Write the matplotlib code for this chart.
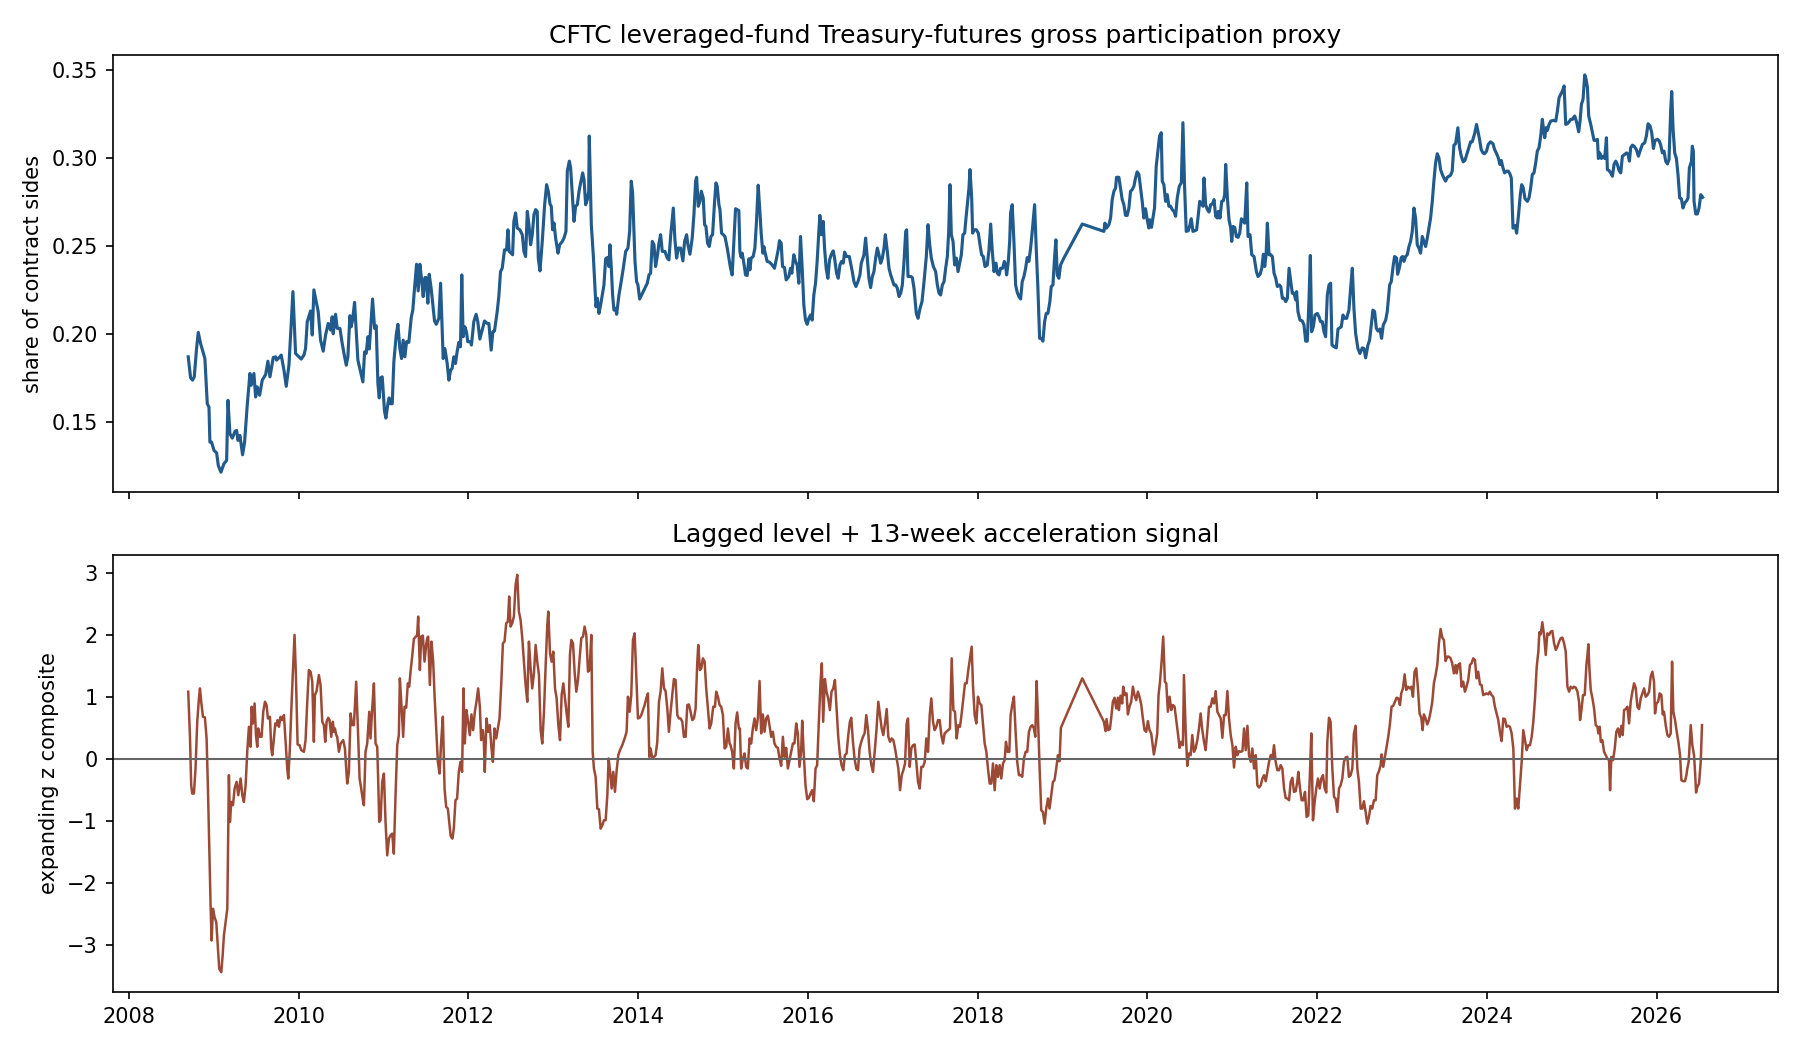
import pandas as pd
import matplotlib
matplotlib.use("Agg")
import matplotlib.pyplot as plt

# leveraged-fund gross participation share (decimal year, value)
lev_year = [
    2008.696, 2008.724, 2008.747, 2008.767, 2008.794, 2008.814, 2008.841, 2008.892, 2008.920, 2008.940,
    2008.951, 2008.971, 2008.999, 2009.030, 2009.050, 2009.081, 2009.116, 2009.148, 2009.164, 2009.187,
    2009.215, 2009.246, 2009.266, 2009.282, 2009.305, 2009.336, 2009.360, 2009.391, 2009.423, 2009.439,
    2009.470, 2009.490, 2009.509, 2009.537, 2009.568, 2009.608, 2009.635, 2009.659, 2009.698, 2009.726,
    2009.737, 2009.765, 2009.792, 2009.824, 2009.851, 2009.883, 2009.930, 2009.961, 2010.001, 2010.028,
    2010.060, 2010.079, 2010.099, 2010.138, 2010.158, 2010.177, 2010.228, 2010.256, 2010.287, 2010.315,
    2010.346, 2010.374, 2010.393, 2010.405, 2010.433, 2010.452, 2010.484, 2010.511, 2010.539, 2010.559,
    2010.578, 2010.602, 2010.617, 2010.633, 2010.657, 2010.696, 2010.728, 2010.755, 2010.775, 2010.794,
    2010.814, 2010.830, 2010.869, 2010.893, 2010.912, 2010.932, 2010.948, 2010.963, 2010.983, 2011.010,
    2011.026, 2011.050, 2011.065, 2011.081, 2011.101, 2011.120, 2011.148, 2011.168, 2011.191, 2011.211,
    2011.230, 2011.250, 2011.270, 2011.297, 2011.325, 2011.344, 2011.364, 2011.388, 2011.407, 2011.427,
    2011.450, 2011.466, 2011.486, 2011.501, 2011.521, 2011.537, 2011.560, 2011.600, 2011.620, 2011.651,
    2011.671, 2011.702, 2011.722, 2011.749, 2011.769, 2011.789,
    2011.807, 2011.827, 2011.847, 2011.866, 2011.886, 2011.906, 2011.921, 2011.937, 2011.957, 2011.976,
    2011.992, 2012.024, 2012.035, 2012.063, 2012.090, 2012.110, 2012.134, 2012.161, 2012.189, 2012.220,
    2012.240, 2012.267, 2012.287, 2012.306, 2012.338, 2012.357, 2012.377, 2012.397, 2012.424, 2012.448,
    2012.464, 2012.479, 2012.503, 2012.519, 2012.534, 2012.554, 2012.574, 2012.605, 2012.633, 2012.652,
    2012.672, 2012.692, 2012.711, 2012.731, 2012.750, 2012.770, 2012.790, 2012.809, 2012.821, 2012.841,
    2012.868, 2012.896, 2012.919, 2012.939, 2012.959, 2012.974, 2012.990, 2013.006, 2013.025, 2013.053,
    2013.073, 2013.104, 2013.124, 2013.147, 2013.163, 2013.187, 2013.202, 2013.222, 2013.242, 2013.261,
    2013.281, 2013.301, 2013.320, 2013.344, 2013.360, 2013.379, 2013.399, 2013.415, 2013.422, 2013.430,
    2013.446, 2013.469, 2013.485, 2013.501, 2013.517, 2013.536, 2013.556, 2013.576, 2013.595, 2013.615,
    2013.635, 2013.654, 2013.666, 2013.682, 2013.697, 2013.713, 2013.733, 2013.745, 2013.772, 2013.792,
    2013.823, 2013.851, 2013.878, 2013.898, 2013.917, 2013.933, 2013.949, 2013.961, 2013.980, 2013.996,
    2014.016, 2014.039, 2014.067, 2014.106, 2014.126, 2014.145, 2014.165, 2014.185, 2014.204, 2014.224,
    2014.244, 2014.263, 2014.283, 2014.314, 2014.342, 2014.361, 2014.381, 2014.413, 2014.432, 2014.452,
    2014.471, 2014.499, 2014.526, 2014.546, 2014.570, 2014.585, 2014.609, 2014.636, 2014.656, 2014.676,
    2014.688, 2014.707, 2014.727, 2014.743, 2014.766, 2014.782, 2014.798, 2014.817, 2014.837, 2014.857,
    2014.876, 2014.900, 2014.916, 2014.931, 2014.951, 2014.963, 2014.982, 2015.002, 2015.022, 2015.049,
    2015.088,
    2015.107, 2015.127, 2015.147, 2015.166, 2015.186, 2015.198, 2015.213, 2015.225, 2015.245, 2015.265,
    2015.284, 2015.304, 2015.316, 2015.331, 2015.355, 2015.375, 2015.394, 2015.414, 2015.434, 2015.449,
    2015.469, 2015.481, 2015.492, 2015.520, 2015.547, 2015.579, 2015.606, 2015.630, 2015.650, 2015.665,
    2015.685, 2015.701, 2015.724, 2015.744, 2015.775, 2015.795, 2015.811, 2015.834, 2015.854, 2015.874,
    2015.893, 2015.913, 2015.933, 2015.952, 2015.972, 2015.992, 2016.011, 2016.031, 2016.050, 2016.070,
    2016.090, 2016.109, 2016.129, 2016.141, 2016.160, 2016.180, 2016.196, 2016.215, 2016.235, 2016.255,
    2016.274, 2016.298, 2016.314, 2016.337, 2016.357, 2016.377, 2016.396, 2016.416, 2016.432, 2016.455,
    2016.487, 2016.502, 2016.522, 2016.542, 2016.565, 2016.589, 2016.612, 2016.628, 2016.648, 2016.659,
    2016.679, 2016.699, 2016.718, 2016.738, 2016.758, 2016.777, 2016.797, 2016.817, 2016.836, 2016.856,
    2016.876, 2016.895, 2016.911, 2016.934, 2016.954, 2016.974, 2016.993, 2017.013, 2017.033, 2017.052,
    2017.072, 2017.092, 2017.111, 2017.131, 2017.151, 2017.162, 2017.178, 2017.210, 2017.229, 2017.249,
    2017.276, 2017.296, 2017.320, 2017.343, 2017.367, 2017.394, 2017.414, 2017.434, 2017.453, 2017.477,
    2017.504, 2017.524, 2017.544, 2017.563, 2017.583, 2017.603, 2017.622, 2017.642, 2017.658, 2017.673,
    2017.689, 2017.709, 2017.728, 2017.748, 2017.768, 2017.787, 2017.807, 2017.826, 2017.846, 2017.862,
    2017.878, 2017.897, 2017.909, 2017.929, 2017.940, 2017.956, 2017.984, 2018.007, 2018.027, 2018.046,
    2018.066, 2018.086, 2018.113, 2018.133, 2018.153, 2018.172, 2018.192, 2018.216, 2018.231, 2018.251,
    2018.270, 2018.294, 2018.314, 2018.329, 2018.341, 2018.361, 2018.377, 2018.388,
    2018.407, 2018.427, 2018.447, 2018.466, 2018.486, 2018.506, 2018.525, 2018.545, 2018.565, 2018.584,
    2018.604, 2018.624, 2018.643, 2018.671, 2018.690, 2018.710, 2018.730, 2018.749, 2018.769, 2018.789,
    2018.808, 2018.828, 2018.851, 2018.867, 2018.887, 2018.906, 2018.922, 2018.938, 2018.957, 2018.977,
    2018.997, 2019.016, 2019.233, 2019.488, 2019.500, 2019.519, 2019.547, 2019.567, 2019.586, 2019.606,
    2019.626, 2019.637, 2019.665, 2019.684, 2019.704, 2019.724, 2019.743, 2019.763, 2019.783, 2019.802,
    2019.822, 2019.842, 2019.861, 2019.881, 2019.901, 2019.920, 2019.940, 2019.959, 2019.979, 2019.999,
    2020.018, 2020.030, 2020.050, 2020.066, 2020.085, 2020.105, 2020.124, 2020.144, 2020.164, 2020.176,
    2020.195, 2020.215, 2020.235, 2020.254, 2020.274, 2020.293, 2020.313, 2020.333, 2020.352, 2020.376,
    2020.400, 2020.419, 2020.439, 2020.458, 2020.482, 2020.502, 2020.517, 2020.537, 2020.561, 2020.580,
    2020.600, 2020.616, 2020.635, 2020.655, 2020.667, 2020.686, 2020.706, 2020.726, 2020.745, 2020.765,
    2020.785, 2020.804, 2020.824, 2020.836, 2020.855, 2020.875, 2020.895, 2020.910, 2020.922, 2020.942,
    2020.961, 2020.981, 2020.993, 2021.009, 2021.028, 2021.048, 2021.068, 2021.087, 2021.107, 2021.127,
    2021.146, 2021.170, 2021.185, 2021.209, 2021.229, 2021.256, 2021.284, 2021.303, 2021.327, 2021.347,
    2021.366, 2021.382, 2021.398, 2021.413, 2021.433, 2021.453, 2021.472, 2021.492, 2021.512, 2021.531,
    2021.555, 2021.571, 2021.590, 2021.610, 2021.630, 2021.649, 2021.669, 2021.689,
    2021.707, 2021.727, 2021.747, 2021.758, 2021.774, 2021.798, 2021.825, 2021.845, 2021.865, 2021.884,
    2021.904, 2021.920, 2021.935, 2021.955, 2021.975, 2022.002, 2022.022, 2022.041, 2022.061, 2022.081,
    2022.100, 2022.120, 2022.140, 2022.159, 2022.175, 2022.199, 2022.226, 2022.246, 2022.269, 2022.285,
    2022.305, 2022.324, 2022.348, 2022.375, 2022.395, 2022.415, 2022.434, 2022.454, 2022.481, 2022.505,
    2022.533, 2022.552, 2022.572, 2022.599, 2022.619, 2022.639, 2022.658, 2022.678, 2022.698, 2022.717,
    2022.741, 2022.760, 2022.780, 2022.808, 2022.827, 2022.855, 2022.874, 2022.898, 2022.914, 2022.937,
    2022.949, 2022.969, 2022.992, 2023.008, 2023.024, 2023.043, 2023.063, 2023.083, 2023.102, 2023.122,
    2023.142, 2023.161, 2023.181, 2023.200, 2023.220, 2023.240, 2023.259, 2023.279, 2023.299, 2023.318,
    2023.338, 2023.358, 2023.377, 2023.397, 2023.417, 2023.436, 2023.456, 2023.476, 2023.495, 2023.515,
    2023.535, 2023.574, 2023.593, 2023.613, 2023.633, 2023.660, 2023.680, 2023.700, 2023.723, 2023.743,
    2023.762, 2023.790, 2023.810, 2023.829, 2023.857, 2023.880, 2023.896, 2023.916, 2023.935, 2023.955,
    2023.975, 2023.998, 2024.018, 2024.045, 2024.073, 2024.093, 2024.112, 2024.136, 2024.155, 2024.171,
    2024.191, 2024.210, 2024.234, 2024.254, 2024.273, 2024.289, 2024.309, 2024.332, 2024.352, 2024.375,
    2024.395, 2024.411, 2024.430, 2024.450, 2024.478, 2024.497, 2024.517, 2024.536, 2024.556, 2024.576,
    2024.595, 2024.615, 2024.635, 2024.654, 2024.666, 2024.682, 2024.698, 2024.713, 2024.733, 2024.753,
    2024.784, 2024.812, 2024.831, 2024.851, 2024.870, 2024.890, 2024.910, 2024.929, 2024.949, 2024.969,
    2024.988,
    2025.008, 2025.035, 2025.059, 2025.082, 2025.098, 2025.114, 2025.133, 2025.153, 2025.169, 2025.185,
    2025.200, 2025.224, 2025.244, 2025.263, 2025.283, 2025.303, 2025.314, 2025.330, 2025.350, 2025.369,
    2025.389, 2025.409, 2025.420, 2025.440, 2025.460, 2025.479, 2025.499, 2025.519, 2025.538, 2025.558,
    2025.578, 2025.597, 2025.625, 2025.648, 2025.664, 2025.680, 2025.695, 2025.715, 2025.735, 2025.762,
    2025.786, 2025.805, 2025.833, 2025.860, 2025.880, 2025.900, 2025.923, 2025.943, 2025.963, 2025.982,
    2026.010, 2026.033, 2026.049, 2026.069, 2026.088, 2026.108, 2026.128, 2026.147, 2026.167, 2026.179,
    2026.194, 2026.214, 2026.234, 2026.253, 2026.273, 2026.293, 2026.312, 2026.332, 2026.356, 2026.371,
    2026.387, 2026.411, 2026.422, 2026.434, 2026.442, 2026.462, 2026.481, 2026.501, 2026.521, 2026.544,
]
lev_value = [
    0.1870, 0.1750, 0.1737, 0.1756, 0.1917, 0.2009, 0.1946, 0.1860, 0.1603, 0.1584,
    0.1384, 0.1384, 0.1337, 0.1323, 0.1251, 0.1213, 0.1261, 0.1280, 0.1622, 0.1432,
    0.1407, 0.1445, 0.1451, 0.1394, 0.1422, 0.1312, 0.1384, 0.1594, 0.1775, 0.1708,
    0.1775, 0.1641, 0.1699, 0.1651, 0.1737, 0.1769, 0.1845, 0.1756, 0.1866, 0.1870,
    0.1851, 0.1864, 0.1880, 0.1794, 0.1702, 0.1822, 0.2241, 0.1889, 0.1870, 0.1857,
    0.1880, 0.1917, 0.2070, 0.2131, 0.1994, 0.2251, 0.2127, 0.1965, 0.1902, 0.1994,
    0.2060, 0.2022, 0.2098, 0.2001, 0.2112, 0.2032, 0.2032, 0.1946, 0.1870, 0.1822,
    0.1870, 0.2104, 0.2041, 0.2079, 0.2180, 0.1851, 0.1784, 0.1727, 0.1898, 0.1889,
    0.1984, 0.1914, 0.2199, 0.2032, 0.2047, 0.1718, 0.1636, 0.1750, 0.1756, 0.1560,
    0.1521, 0.1603, 0.1636, 0.1603, 0.1603, 0.1841, 0.1994, 0.2055, 0.1917, 0.1860,
    0.1965, 0.1870, 0.1956, 0.1952, 0.2093, 0.2137, 0.2260, 0.2397, 0.2245, 0.2397,
    0.2298, 0.2213, 0.2321, 0.2321, 0.2175, 0.2340, 0.2260, 0.2074, 0.2055, 0.2089,
    0.2289, 0.1860, 0.1917, 0.1832, 0.1737, 0.1794,
    0.1803, 0.1870, 0.1832, 0.1898, 0.1952, 0.1927, 0.2336, 0.1984, 0.2041, 0.2013,
    0.1956, 0.1956, 0.1937, 0.2070, 0.2112, 0.2070, 0.1971, 0.2022, 0.2074, 0.2060,
    0.2060, 0.1908, 0.2013, 0.2017, 0.2127, 0.2213, 0.2355, 0.2374, 0.2479, 0.2479,
    0.2593, 0.2470, 0.2460, 0.2451, 0.2641, 0.2689, 0.2603, 0.2593, 0.2565, 0.2470,
    0.2441, 0.2698, 0.2622, 0.2508, 0.2565, 0.2679, 0.2708, 0.2698, 0.2432, 0.2359,
    0.2527, 0.2736, 0.2850, 0.2812, 0.2740, 0.2727, 0.2593, 0.2631, 0.2546, 0.2460,
    0.2508, 0.2527, 0.2546, 0.2584, 0.2927, 0.2984, 0.2946, 0.2793, 0.2641, 0.2727,
    0.2736, 0.2812, 0.2860, 0.2917, 0.2879, 0.2736, 0.2765, 0.2812, 0.3127, 0.2965,
    0.2622, 0.2451, 0.2298, 0.2155, 0.2203, 0.2117, 0.2165, 0.2222, 0.2279, 0.2428,
    0.2435, 0.2384, 0.2508, 0.2374, 0.2222, 0.2136, 0.2146, 0.2112, 0.2222, 0.2279,
    0.2374, 0.2470, 0.2489, 0.2584, 0.2870, 0.2803, 0.2584, 0.2413, 0.2298, 0.2279,
    0.2199, 0.2222, 0.2251, 0.2289, 0.2336, 0.2346, 0.2527, 0.2508, 0.2384, 0.2441,
    0.2517, 0.2565, 0.2470, 0.2470, 0.2432, 0.2422, 0.2555, 0.2717, 0.2536, 0.2432,
    0.2489, 0.2489, 0.2416, 0.2527, 0.2565, 0.2508, 0.2454, 0.2546, 0.2679, 0.2870,
    0.2892, 0.2727, 0.2755, 0.2812, 0.2774, 0.2622, 0.2612, 0.2517, 0.2498, 0.2555,
    0.2565, 0.2755, 0.2860, 0.2841, 0.2736, 0.2708, 0.2574, 0.2565, 0.2555, 0.2489,
    0.2374,
    0.2336, 0.2527, 0.2713, 0.2708, 0.2702, 0.2470, 0.2437, 0.2460, 0.2403, 0.2336,
    0.2333, 0.2428, 0.2365, 0.2432, 0.2441, 0.2489, 0.2641, 0.2847, 0.2698, 0.2574,
    0.2460, 0.2498, 0.2470, 0.2413, 0.2409, 0.2393, 0.2374, 0.2432, 0.2479, 0.2531,
    0.2517, 0.2384, 0.2378, 0.2308, 0.2327, 0.2374, 0.2346, 0.2451, 0.2413, 0.2393,
    0.2289, 0.2555, 0.2374, 0.2165, 0.2079, 0.2055, 0.2089, 0.2108, 0.2079, 0.2222,
    0.2289, 0.2413, 0.2584, 0.2675, 0.2565, 0.2641, 0.2489, 0.2374, 0.2317, 0.2422,
    0.2451, 0.2473, 0.2432, 0.2346, 0.2317, 0.2393, 0.2413, 0.2403, 0.2466, 0.2441,
    0.2441, 0.2403, 0.2355, 0.2298, 0.2270, 0.2298, 0.2336, 0.2403, 0.2432, 0.2451,
    0.2546, 0.2432, 0.2317, 0.2264, 0.2327, 0.2355, 0.2432, 0.2489, 0.2451, 0.2403,
    0.2432, 0.2489, 0.2565, 0.2470, 0.2374, 0.2336, 0.2308, 0.2279, 0.2279, 0.2260,
    0.2213, 0.2232, 0.2279, 0.2413, 0.2584, 0.2593, 0.2327, 0.2327, 0.2321, 0.2260,
    0.2117, 0.2089, 0.2146, 0.2184, 0.2298, 0.2441, 0.2622, 0.2508, 0.2432, 0.2384,
    0.2355, 0.2279, 0.2232, 0.2222, 0.2279, 0.2298, 0.2374, 0.2441, 0.2584, 0.2850,
    0.2565, 0.2527, 0.2393, 0.2432, 0.2355, 0.2403, 0.2451, 0.2565, 0.2574, 0.2660,
    0.2736, 0.2831, 0.2936, 0.2774, 0.2574, 0.2593, 0.2593, 0.2574, 0.2508, 0.2451,
    0.2441, 0.2384, 0.2393, 0.2479, 0.2626, 0.2470, 0.2355, 0.2403, 0.2346, 0.2336,
    0.2374, 0.2374, 0.2413, 0.2393, 0.2336, 0.2413, 0.2527, 0.2689,
    0.2736, 0.2527, 0.2279, 0.2237, 0.2213, 0.2199, 0.2298, 0.2327, 0.2374, 0.2435,
    0.2413, 0.2489, 0.2584, 0.2736, 0.2489, 0.2260, 0.1975, 0.1975, 0.1959, 0.2070,
    0.2117, 0.2117, 0.2184, 0.2270, 0.2279, 0.2432, 0.2536, 0.2336, 0.2317, 0.2393,
    0.2413, 0.2432, 0.2626, 0.2584, 0.2631, 0.2603, 0.2622, 0.2660, 0.2765, 0.2812,
    0.2831, 0.2892, 0.2892, 0.2831, 0.2765, 0.2736, 0.2675, 0.2675, 0.2717, 0.2812,
    0.2822, 0.2841, 0.2888, 0.2923, 0.2908, 0.2831, 0.2755, 0.2660, 0.2713, 0.2650,
    0.2603, 0.2650, 0.2607, 0.2660, 0.2717, 0.2955, 0.3041, 0.3127, 0.3146, 0.2870,
    0.2850, 0.2755, 0.2793, 0.2727, 0.2727, 0.2708, 0.2698, 0.2670, 0.2774, 0.2841,
    0.2860, 0.3203, 0.2831, 0.2584, 0.2588, 0.2622, 0.2656, 0.2584, 0.2588, 0.2593,
    0.2679, 0.2755, 0.2746, 0.2727, 0.2888, 0.2736, 0.2708, 0.2694, 0.2736, 0.2740,
    0.2765, 0.2670, 0.2660, 0.2698, 0.2660, 0.2755, 0.2759, 0.2793, 0.2965, 0.2774,
    0.2650, 0.2603, 0.2527, 0.2612, 0.2607, 0.2555, 0.2550, 0.2574, 0.2656, 0.2645,
    0.2631, 0.2860, 0.2555, 0.2565, 0.2451, 0.2441, 0.2355, 0.2327, 0.2340, 0.2374,
    0.2454, 0.2384, 0.2451, 0.2631, 0.2451, 0.2451, 0.2441, 0.2346, 0.2317, 0.2270,
    0.2279, 0.2270, 0.2203, 0.2203, 0.2184, 0.2203, 0.2374, 0.2298,
    0.2232, 0.2232, 0.2194, 0.2241, 0.2127, 0.2079, 0.2074, 0.2051, 0.1959, 0.1959,
    0.2194, 0.2447, 0.2013, 0.2041, 0.2108, 0.2117, 0.2098, 0.2070, 0.2070, 0.2013,
    0.1984, 0.2222, 0.2279, 0.2289, 0.1937, 0.1927, 0.1921, 0.2028, 0.2036, 0.2041,
    0.2108, 0.2089, 0.2089, 0.2136, 0.2260, 0.2374, 0.2146, 0.2003, 0.1917, 0.1889,
    0.1921, 0.1917, 0.1864, 0.1937, 0.1965, 0.2051, 0.2136, 0.2127, 0.2032, 0.2017,
    0.2028, 0.1975, 0.2051, 0.2079, 0.2127, 0.2279, 0.2298, 0.2393, 0.2441, 0.2432,
    0.2340, 0.2374, 0.2435, 0.2441, 0.2413, 0.2441, 0.2451, 0.2498, 0.2527, 0.2584,
    0.2717, 0.2660, 0.2508, 0.2489, 0.2460, 0.2555, 0.2527, 0.2498, 0.2546, 0.2603,
    0.2660, 0.2755, 0.2870, 0.2974, 0.3026, 0.3003, 0.2936, 0.2908, 0.2888, 0.2870,
    0.2892, 0.2904, 0.2927, 0.3075, 0.3083, 0.3174, 0.3060, 0.3012, 0.2980, 0.2988,
    0.3018, 0.3064, 0.3094, 0.3094, 0.3140, 0.3193, 0.3155, 0.3107, 0.3050, 0.3031,
    0.3026, 0.3041, 0.3079, 0.3094, 0.3083, 0.3050, 0.3031, 0.3003, 0.2965, 0.2988,
    0.2946, 0.2917, 0.2927, 0.2927, 0.2911, 0.2888, 0.2603, 0.2618, 0.2574, 0.2683,
    0.2793, 0.2850, 0.2831, 0.2770, 0.2755, 0.2774, 0.2831, 0.2908, 0.2917, 0.2974,
    0.3041, 0.3060, 0.3127, 0.3222, 0.3174, 0.3117, 0.3174, 0.3159, 0.3193, 0.3212,
    0.3216, 0.3212, 0.3269, 0.3345, 0.3364, 0.3383, 0.3412, 0.3193, 0.3197, 0.3208,
    0.3222,
    0.3222, 0.3241, 0.3203, 0.3151, 0.3212, 0.3307, 0.3336, 0.3475, 0.3450, 0.3403,
    0.3241, 0.3193, 0.3146, 0.3102, 0.3102, 0.3108, 0.2999, 0.3031, 0.2999, 0.3012,
    0.2999, 0.3117, 0.2936, 0.2930, 0.2917, 0.2898, 0.2965, 0.2984, 0.2965, 0.2930,
    0.2917, 0.3012, 0.3022, 0.3031, 0.3022, 0.2984, 0.3060, 0.3075, 0.3069, 0.3050,
    0.3012, 0.3041, 0.3079, 0.3088, 0.3127, 0.3197, 0.3184, 0.3146, 0.3056, 0.3102,
    0.3108, 0.3098, 0.3075, 0.3031, 0.3041, 0.2984, 0.2968, 0.2993, 0.3279, 0.3380,
    0.3174, 0.3031, 0.2999, 0.2908, 0.2774, 0.2770, 0.2717, 0.2746, 0.2759, 0.2774,
    0.2946, 0.2980, 0.3069, 0.3041, 0.2755, 0.2683, 0.2683, 0.2717, 0.2793, 0.2778,
]

# lagged level + 13-week acceleration composite (decimal year, z)
sig_year = [
    2008.696, 2008.716, 2008.731, 2008.743, 2008.763, 2008.782, 2008.802, 2008.822, 2008.834, 2008.849,
    2008.869, 2008.892, 2008.912, 2008.928, 2008.944, 2008.959, 2008.971, 2008.987, 2009.006, 2009.026,
    2009.046, 2009.061, 2009.085, 2009.101, 2009.116, 2009.136, 2009.156, 2009.175, 2009.187, 2009.203,
    2009.223, 2009.242, 2009.266, 2009.285, 2009.313, 2009.333, 2009.352, 2009.372, 2009.391, 2009.411,
    2009.431, 2009.443, 2009.458, 2009.478, 2009.494, 2009.509, 2009.521, 2009.541, 2009.560, 2009.580,
    2009.600, 2009.619, 2009.635, 2009.647, 2009.659, 2009.674, 2009.686, 2009.702, 2009.722, 2009.737,
    2009.749, 2009.765, 2009.784, 2009.804, 2009.824, 2009.843, 2009.863, 2009.875, 2009.894, 2009.910,
    2009.926, 2009.949, 2009.965, 2009.985, 2010.008, 2010.028, 2010.060, 2010.079, 2010.099, 2010.118,
    2010.138, 2010.158, 2010.177, 2010.189, 2010.209, 2010.236, 2010.256, 2010.276, 2010.295, 2010.311,
    2010.327, 2010.346, 2010.362, 2010.382, 2010.401, 2010.413, 2010.425, 2010.441, 2010.452, 2010.472,
    2010.492, 2010.523, 2010.543, 2010.570, 2010.590, 2010.610, 2010.629, 2010.649, 2010.676, 2010.696,
    2010.716, 2010.735, 2010.755, 2010.767, 2010.786, 2010.806, 2010.830, 2010.845, 2010.865, 2010.885,
    2010.904, 2010.924, 2010.936, 2010.948, 2010.963, 2010.983, 2011.003, 2011.022, 2011.042, 2011.062,
    2011.081, 2011.101, 2011.120, 2011.140, 2011.160, 2011.179, 2011.191, 2011.211, 2011.230, 2011.246,
    2011.266, 2011.285, 2011.301, 2011.317, 2011.336, 2011.356, 2011.380, 2011.395, 2011.407, 2011.427,
    2011.443, 2011.462, 2011.482, 2011.501, 2011.513, 2011.525, 2011.545, 2011.564, 2011.584, 2011.600,
    2011.620, 2011.639, 2011.659, 2011.678, 2011.698, 2011.718, 2011.737, 2011.757, 2011.789,
    2011.796, 2011.811, 2011.827, 2011.847, 2011.866, 2011.886, 2011.906, 2011.925, 2011.941, 2011.957,
    2011.976, 2011.996, 2012.016, 2012.035, 2012.055, 2012.075, 2012.094, 2012.114, 2012.134, 2012.149,
    2012.169, 2012.181, 2012.192, 2012.212, 2012.232, 2012.251, 2012.271, 2012.287, 2012.306, 2012.326,
    2012.346, 2012.365, 2012.385, 2012.405, 2012.424, 2012.444, 2012.464, 2012.479, 2012.495, 2012.515,
    2012.534, 2012.554, 2012.574, 2012.593, 2012.613, 2012.633, 2012.652, 2012.672, 2012.692, 2012.711,
    2012.731, 2012.750, 2012.770, 2012.790, 2012.809, 2012.829, 2012.849, 2012.868, 2012.888, 2012.908,
    2012.927, 2012.939, 2012.959, 2012.978, 2012.998, 2013.018, 2013.037, 2013.057, 2013.077, 2013.096,
    2013.116, 2013.135, 2013.155, 2013.175, 2013.194, 2013.210, 2013.230, 2013.249, 2013.269, 2013.289,
    2013.308, 2013.328, 2013.348, 2013.367, 2013.387, 2013.407, 2013.426, 2013.446, 2013.462, 2013.477,
    2013.497, 2013.517, 2013.536, 2013.556, 2013.576, 2013.595, 2013.615, 2013.635, 2013.650, 2013.666,
    2013.686, 2013.705, 2013.725, 2013.745, 2013.764, 2013.784, 2013.811, 2013.839, 2013.862, 2013.878,
    2013.898, 2013.917, 2013.937, 2013.957, 2013.976, 2013.996, 2014.016, 2014.035, 2014.055, 2014.075,
    2014.094, 2014.114, 2014.130, 2014.145, 2014.165, 2014.185, 2014.204, 2014.224, 2014.244, 2014.263,
    2014.283, 2014.303, 2014.322, 2014.342, 2014.361, 2014.381, 2014.401, 2014.420, 2014.440, 2014.460,
    2014.479, 2014.499, 2014.519, 2014.538, 2014.558, 2014.578, 2014.597, 2014.617, 2014.636, 2014.656,
    2014.676, 2014.695, 2014.707, 2014.727, 2014.743, 2014.762, 2014.782, 2014.801, 2014.821, 2014.841,
    2014.860, 2014.884, 2014.904, 2014.919, 2014.939, 2014.959, 2014.978, 2014.998, 2015.018, 2015.037,
    2015.057, 2015.077, 2015.088,
    2015.107, 2015.127, 2015.147, 2015.166, 2015.186, 2015.198, 2015.213, 2015.233, 2015.253, 2015.272,
    2015.292, 2015.312, 2015.331, 2015.351, 2015.371, 2015.390, 2015.410, 2015.430, 2015.449, 2015.469,
    2015.489, 2015.508, 2015.528, 2015.547, 2015.567, 2015.587, 2015.606, 2015.626, 2015.646, 2015.665,
    2015.685, 2015.705, 2015.724, 2015.744, 2015.764, 2015.783, 2015.803, 2015.823, 2015.842, 2015.862,
    2015.881, 2015.901, 2015.921, 2015.933, 2015.952, 2015.972, 2015.992, 2016.011, 2016.031, 2016.050,
    2016.070, 2016.090, 2016.109, 2016.129, 2016.149, 2016.164, 2016.180, 2016.200, 2016.219, 2016.239,
    2016.259, 2016.278, 2016.298, 2016.318, 2016.337, 2016.357, 2016.377, 2016.396, 2016.416, 2016.435,
    2016.455, 2016.475, 2016.494, 2016.510, 2016.530, 2016.549, 2016.569, 2016.589, 2016.608, 2016.628,
    2016.648, 2016.667, 2016.687, 2016.707, 2016.726, 2016.746, 2016.766, 2016.785, 2016.805, 2016.828,
    2016.848, 2016.868, 2016.887, 2016.907, 2016.927, 2016.946, 2016.966, 2016.986, 2017.005, 2017.025,
    2017.045, 2017.064, 2017.084, 2017.104, 2017.123, 2017.143, 2017.162, 2017.178, 2017.198, 2017.217,
    2017.237, 2017.257, 2017.276, 2017.296, 2017.316, 2017.335, 2017.355, 2017.375, 2017.394, 2017.414,
    2017.434, 2017.453, 2017.473, 2017.492, 2017.512, 2017.532, 2017.551, 2017.571, 2017.591, 2017.610,
    2017.630, 2017.650, 2017.673, 2017.693, 2017.713, 2017.732, 2017.752, 2017.771, 2017.791, 2017.811,
    2017.830, 2017.850, 2017.870, 2017.889, 2017.909, 2017.929, 2017.944, 2017.964, 2017.984, 2018.003,
    2018.023, 2018.043, 2018.062, 2018.082, 2018.102, 2018.121, 2018.141, 2018.160, 2018.180, 2018.200,
    2018.219, 2018.239, 2018.259, 2018.278, 2018.298, 2018.318, 2018.333, 2018.353, 2018.373, 2018.388,
    2018.407, 2018.427, 2018.447, 2018.466, 2018.486, 2018.506, 2018.525, 2018.545, 2018.565, 2018.584,
    2018.604, 2018.624, 2018.643, 2018.663, 2018.679, 2018.694, 2018.710, 2018.730, 2018.749, 2018.769,
    2018.789, 2018.808, 2018.828, 2018.847, 2018.867, 2018.887, 2018.906, 2018.926, 2018.946, 2018.965,
    2018.981, 2019.233, 2019.488, 2019.508, 2019.519, 2019.539, 2019.559, 2019.574, 2019.594, 2019.614,
    2019.633, 2019.653, 2019.665, 2019.684, 2019.704, 2019.716, 2019.735, 2019.755, 2019.771, 2019.790,
    2019.810, 2019.830, 2019.849, 2019.869, 2019.889, 2019.908, 2019.928, 2019.948, 2019.967, 2019.987,
    2020.007, 2020.026, 2020.046, 2020.065, 2020.077, 2020.097, 2020.117, 2020.132, 2020.148, 2020.168,
    2020.187, 2020.207, 2020.223, 2020.242, 2020.262, 2020.282, 2020.301, 2020.321, 2020.341, 2020.360,
    2020.380, 2020.400, 2020.419, 2020.431, 2020.451, 2020.470, 2020.490, 2020.510, 2020.529, 2020.549,
    2020.568, 2020.588, 2020.608, 2020.627, 2020.647, 2020.667, 2020.686, 2020.706, 2020.726, 2020.745,
    2020.765, 2020.785, 2020.804, 2020.824, 2020.844, 2020.863, 2020.883, 2020.903, 2020.922, 2020.942,
    2020.961, 2020.981, 2021.001, 2021.020, 2021.040, 2021.060, 2021.079, 2021.099, 2021.119, 2021.138,
    2021.158, 2021.178, 2021.197, 2021.217, 2021.236, 2021.256, 2021.276, 2021.295, 2021.315, 2021.335,
    2021.354, 2021.374, 2021.394, 2021.413, 2021.433, 2021.453, 2021.472, 2021.492, 2021.511, 2021.531,
    2021.551, 2021.570, 2021.590, 2021.610, 2021.629, 2021.649, 2021.669, 2021.688,
    2021.707, 2021.727, 2021.747, 2021.766, 2021.778, 2021.798, 2021.817, 2021.837, 2021.857, 2021.876,
    2021.896, 2021.916, 2021.931, 2021.951, 2021.971, 2021.990, 2022.010, 2022.030, 2022.049, 2022.069,
    2022.089, 2022.108, 2022.120, 2022.140, 2022.159, 2022.179, 2022.199, 2022.218, 2022.238, 2022.258,
    2022.277, 2022.297, 2022.316, 2022.336, 2022.356, 2022.375, 2022.395, 2022.415, 2022.434, 2022.454,
    2022.474, 2022.493, 2022.513, 2022.533, 2022.552, 2022.572, 2022.591, 2022.611, 2022.631, 2022.650,
    2022.670, 2022.690, 2022.709, 2022.729, 2022.749, 2022.760, 2022.780, 2022.800, 2022.819, 2022.839,
    2022.859, 2022.878, 2022.898, 2022.918, 2022.937, 2022.957, 2022.977, 2022.992, 2023.012, 2023.032,
    2023.051, 2023.071, 2023.091, 2023.110, 2023.130, 2023.149, 2023.169, 2023.189, 2023.208, 2023.228,
    2023.244, 2023.259, 2023.279, 2023.299, 2023.318, 2023.338, 2023.358, 2023.377, 2023.397, 2023.417,
    2023.436, 2023.456, 2023.476, 2023.495, 2023.515, 2023.535, 2023.554, 2023.574, 2023.593, 2023.613,
    2023.633, 2023.645, 2023.664, 2023.684, 2023.704, 2023.723, 2023.743, 2023.762, 2023.782, 2023.802,
    2023.821, 2023.841, 2023.861, 2023.880, 2023.900, 2023.920, 2023.939, 2023.959, 2023.978, 2023.998,
    2024.018, 2024.037, 2024.057, 2024.077, 2024.096, 2024.116, 2024.136, 2024.155, 2024.175, 2024.195,
    2024.214, 2024.234, 2024.254, 2024.273, 2024.293, 2024.313, 2024.332, 2024.352, 2024.371, 2024.391,
    2024.411, 2024.430, 2024.450, 2024.470, 2024.489, 2024.509, 2024.529, 2024.548, 2024.568, 2024.588,
    2024.607, 2024.619, 2024.635, 2024.654, 2024.674, 2024.694, 2024.713, 2024.733, 2024.753, 2024.772,
    2024.792, 2024.812, 2024.831, 2024.851, 2024.870, 2024.890, 2024.910, 2024.929, 2024.949, 2024.969,
    2024.988,
    2025.008, 2025.027, 2025.047, 2025.067, 2025.086, 2025.098, 2025.114, 2025.133, 2025.153, 2025.173,
    2025.185, 2025.196, 2025.208, 2025.224, 2025.244, 2025.263, 2025.283, 2025.303, 2025.314, 2025.330,
    2025.342, 2025.361, 2025.381, 2025.401, 2025.420, 2025.440, 2025.452, 2025.467, 2025.487, 2025.507,
    2025.526, 2025.546, 2025.566, 2025.585, 2025.601, 2025.617, 2025.636, 2025.656, 2025.676, 2025.695,
    2025.715, 2025.735, 2025.754, 2025.774, 2025.794, 2025.813, 2025.833, 2025.853, 2025.872, 2025.892,
    2025.912, 2025.931, 2025.951, 2025.970, 2025.982, 2025.998, 2026.018, 2026.037, 2026.057, 2026.073,
    2026.088, 2026.108, 2026.128, 2026.147, 2026.167, 2026.183, 2026.198, 2026.218, 2026.238, 2026.257,
    2026.277, 2026.293, 2026.312, 2026.336, 2026.352, 2026.363, 2026.379, 2026.403, 2026.422, 2026.442,
    2026.454, 2026.466, 2026.481, 2026.501, 2026.521, 2026.536,
]
sig_value = [
    1.081, 0.382, -0.425, -0.559, -0.559, -0.156, 0.597, 0.973, 1.134, 0.919,
    0.677, 0.667, 0.328, -0.478, -1.446, -2.360, -2.925, -2.414, -2.548, -2.629,
    -3.059, -3.382, -3.435, -3.167, -2.844, -2.629, -2.414, -0.263, -1.016, -0.694,
    -0.747, -0.478, -0.371, -0.586, -0.317, -0.586, -0.694, -0.425, 0.113, 0.516,
    0.194, 0.839, 0.570, 0.892, 0.382, 0.194, 0.489, 0.355, 0.355, 0.758,
    0.919, 0.866, 0.651, 0.651, 0.677, 0.167, 0.059, 0.274, 0.570, 0.543,
    0.624, 0.516, 0.677, 0.624, 0.704, 0.274, -0.156, -0.317, 0.167, 0.758,
    1.296, 1.995, 1.349, 0.231, 0.220, 0.140, 0.113, 0.301, 0.919, 1.430,
    1.403, 1.242, 0.274, 1.027, 1.091, 1.349, 1.188, 0.597, 0.543, 0.274,
    0.597, 0.661, 0.624, 0.355, 0.597, 0.435, 0.489, 0.382, 0.355, 0.113,
    0.247, 0.301, 0.167, -0.398, -0.210, 0.731, 0.543, 0.543, 1.242, 0.489,
    -0.317, -0.478, -0.667, -0.747, 0.113, 0.247, 0.758, 0.328, 0.812, 1.215,
    0.247, 0.194, -0.371, -1.016, -0.989, -0.371, -0.237, -1.016, -1.554, -1.285,
    -1.231, -1.204, -1.527, -0.586, 0.220, 0.382, 1.296, 0.839, 0.355, 0.839,
    0.823, 1.215, 1.161, 1.403, 1.645, 1.930, 1.968, 1.995, 2.290, 1.430,
    1.968, 1.984, 1.565, 1.833, 1.941, 1.968, 1.188, 1.887, 1.565, 1.027,
    0.489, -0.048, -0.237, 0.274, 0.677, -0.478, -0.774, -0.801, -1.231,
    -1.258, -1.285, -1.124, -0.667, -0.640, -0.210, -0.048, -0.210, 1.134, 0.247,
    0.785, 0.597, 0.382, 0.715, 0.462, 0.758, 0.919, 1.134, 0.839, 0.301,
    0.462, 0.274, -0.210, 0.650, 0.435, 0.543, 0.167, -0.048, 0.489, 0.328,
    0.489, 0.650, 1.188, 1.860, 1.887, 2.183, 2.210, 2.613, 2.129, 2.183,
    2.290, 2.801, 2.962, 2.371, 2.236, 1.941, 1.565, 1.188, 0.919, 1.887,
    1.457, 1.134, 1.376, 1.833, 1.565, 1.349, 0.462, 0.247, 0.758, 1.511,
    2.156, 2.371, 1.699, 1.565, 1.726, 1.134, 0.973, 0.543, 0.301, 1.027,
    1.215, 0.973, 0.731, 0.516, 1.672, 1.914, 1.860, 1.403, 1.081, 1.269,
    1.618, 1.941, 1.968, 2.129, 1.995, 1.403, 1.430, 1.995, 0.113, -0.156,
    -0.290, -0.801, -0.812, -1.124, -1.070, -0.989, -0.989, -0.586, 0.005, -0.183,
    -0.478, -0.210, -0.532, -0.183, 0.059, 0.140, 0.220, 0.328, 0.435, 1.000,
    0.758, 1.027, 1.914, 2.021, 1.349, 0.650, 0.661, 0.704, 0.785, 0.866,
    0.973, 1.054, 0.032, 0.167, 0.005, 0.032, 0.059, 0.274, 0.919, 1.081,
    1.457, 1.134, 1.091, 0.812, 0.435, 0.758, 1.027, 1.285, 1.269, 0.704,
    0.650, 0.650, 0.597, 0.355, 0.355, 0.866, 0.876, 0.758, 0.624, 0.650,
    0.812, 1.538, 1.833, 1.430, 1.457, 1.618, 1.565, 1.134, 0.812, 0.489,
    0.570, 0.839, 0.839, 1.081, 1.000, 0.866, 0.839, 0.704, 0.167, 0.194,
    0.489, 0.247, 0.220,
    0.113, -0.156, 0.570, 0.747, 0.489, 0.489, -0.156, 0.005, 0.086, -0.129,
    -0.156, 0.328, 0.247, 0.489, 0.650, 0.462, 0.650, 1.253, 0.409, 0.715,
    0.435, 0.650, 0.694, 0.543, 0.355, 0.435, 0.247, 0.194, 0.177, 0.005,
    -0.113, 0.355, 0.032, 0.177, -0.156, -0.022, 0.113, 0.247, 0.247, 0.570,
    0.409, -0.129, 0.140, 0.613, 0.059, -0.425, -0.650, -0.629, -0.559, -0.505,
    -0.683, -0.156, -0.102, 0.597, 1.242, 1.538, 0.597, 1.285, 1.081, 0.973,
    0.785, 1.081, 1.134, 1.269, 0.812, 0.355, 0.059, -0.102, -0.183, 0.059,
    0.086, 0.382, 0.597, 0.661, 0.274, 0.005, -0.156, -0.183, 0.167, 0.274,
    0.355, 0.409, 0.704, 0.462, 0.113, -0.102, -0.210, 0.113, 0.435, 0.919,
    0.704, 0.489, 0.382, 0.570, 0.801, 0.355, 0.274, 0.328, 0.301, 0.167,
    0.005, -0.156, -0.505, -0.263, -0.183, -0.075, 0.570, 0.650, -0.129, 0.167,
    0.220, 0.231, -0.048, -0.371, -0.478, -0.129, -0.129, -0.048, 0.328, 0.113,
    0.704, 0.973, 0.597, 0.462, 0.516, 0.624, 0.624, 0.382, 0.247, 0.409,
    0.435, 0.462, 0.489, 1.618, 0.785, 0.758, 0.328, 0.543, 0.516, 0.731,
    0.973, 1.215, 1.215, 1.430, 1.618, 1.806, 1.188, 0.704, 0.570, 1.000,
    0.892, 0.866, 0.570, 0.247, 0.113, -0.156, -0.398, -0.398, -0.075, -0.505,
    -0.102, -0.290, -0.102, -0.317, -0.075, -0.022, 0.274, 0.113, 0.113, 0.704,
    0.866, 1.000, 0.435, -0.048, -0.263, -0.263, -0.290, 0.005, 0.113, 0.113,
    0.435, 0.516, 0.543, 0.489, 0.355, 1.253, 0.704, -0.156, -0.828, -0.855,
    -1.043, -0.801, -0.640, -0.801, -0.586, -0.371, -0.344, -0.156, 0.059, -0.038,
    0.500, 1.296, 0.597, 0.446, 0.640, 0.462, 0.478, 0.650, 0.919, 0.984,
    0.812, 0.984, 0.785, 1.016, 0.892, 1.161, 1.027, 1.054, 0.715, 0.839,
    0.919, 1.161, 1.027, 0.946, 1.081, 1.000, 0.876, 0.650, 0.462, 0.435,
    0.607, 0.462, 0.409, 0.194, 0.070, 0.220, 0.409, 1.027, 1.215, 1.565,
    1.968, 1.242, 1.215, 0.758, 1.000, 0.785, 0.866, 0.839, 0.624, 0.409,
    0.177, 0.274, 0.220, 1.349, 0.462, -0.113, 0.086, 0.059, 0.382, 0.113,
    0.167, 0.301, 0.489, 0.731, 0.462, 0.274, 0.140, 0.462, 0.839, 0.839,
    0.973, 0.892, 1.091, 0.758, 0.704, 0.650, 0.339, 0.704, 0.704, 1.091,
    0.650, 0.382, 0.220, -0.140, 0.194, 0.059, 0.124, 0.113, 0.124, 0.489,
    0.140, 0.532, 0.059, -0.048, 0.167, -0.156, 0.059, -0.425, -0.462, -0.425,
    -0.317, -0.263, -0.360, -0.210, -0.048, 0.059, 0.005, 0.220, -0.048, -0.183,
    -0.183, -0.102, -0.156, -0.478, -0.629, -0.640, -0.667, -0.371,
    -0.306, -0.532, -0.521, -0.371, -0.210, -0.478, -0.667, -0.667, -0.532, -0.935,
    -0.909, -0.210, 0.409, -0.989, -0.694, -0.478, -0.317, -0.478, -0.317, -0.263,
    -0.478, -0.543, 0.274, 0.661, 0.597, -0.156, -0.613, -0.640, -0.855, -0.478,
    -0.425, -0.317, -0.048, 0.022, 0.032, -0.290, -0.263, -0.156, 0.409, 0.532,
    -0.156, -0.371, -0.801, -0.801, -0.683, -0.855, -1.043, -0.935, -0.758, -0.801,
    -0.667, -0.667, -0.263, -0.199, -0.102, 0.070, -0.129, 0.032, 0.194, 0.355,
    0.570, 0.839, 0.855, 0.919, 0.984, 0.973, 0.866, 1.054, 1.134, 1.360,
    1.108, 1.161, 1.134, 1.161, 1.000, 1.403, 1.457, 1.134, 0.731, 0.661,
    0.462, 0.715, 0.650, 0.554, 0.624, 0.758, 0.919, 1.215, 1.349, 1.511,
    1.860, 2.091, 1.952, 1.914, 1.575, 1.645, 1.645, 1.618, 1.538, 1.376,
    1.511, 1.376, 1.511, 1.538, 1.161, 1.242, 1.081, 1.161, 1.269, 1.511,
    1.538, 1.618, 1.591, 1.296, 1.403, 1.199, 1.188, 1.027, 1.038, 1.054,
    1.038, 1.081, 1.027, 1.000, 0.839, 0.731, 0.624, 0.435, 0.285, 0.650,
    0.640, 0.516, 0.532, 0.516, 0.409, 0.167, -0.801, -0.640, -0.801, -0.425,
    -0.048, 0.462, 0.301, 0.140, 0.220, 0.220, 0.355, 0.597, 0.973, 1.484,
    1.726, 2.038, 2.005, 2.199, 1.995, 1.672, 2.021, 1.995, 2.048, 2.059,
    1.860, 1.753, 1.806, 1.887, 1.941, 1.952, 1.860, 1.726, 1.161, 1.081,
    1.161,
    1.134, 1.161, 1.145, 1.081, 0.919, 0.624, 0.785, 1.027, 1.027, 1.511,
    1.672, 1.844, 1.457, 1.108, 0.973, 0.812, 0.543, 0.516, 0.409, 0.516,
    0.274, 0.301, 0.113, 0.059, 0.005, -0.022, -0.505, 0.032, -0.022, 0.167,
    0.435, 0.489, 0.355, 0.532, 0.382, 0.785, 0.801, 0.839, 0.570, 0.919,
    1.081, 1.215, 1.145, 0.839, 0.801, 0.973, 1.054, 1.134, 1.000, 1.027,
    1.081, 1.323, 1.403, 1.242, 0.731, 0.892, 0.919, 1.054, 1.027, 0.715,
    0.758, 0.543, 0.382, 0.355, 0.409, 1.565, 0.758, 0.624, 0.435, 0.274,
    0.059, -0.344, -0.360, -0.360, -0.263, -0.156, -0.048, 0.543, 0.220, 0.059,
    -0.210, -0.543, -0.452, -0.398, -0.048, 0.543,
]


def to_dates(years):
    out = []
    for y in years:
        yr = int(y)
        start = pd.Timestamp(yr, 1, 1)
        end = pd.Timestamp(yr + 1, 1, 1)
        out.append(start + (end - start) * (y - yr))
    return out


fig, (ax1, ax2) = plt.subplots(2, 1, figsize=(12, 7), dpi=150, sharex=True)

ax1.plot(to_dates(lev_year), lev_value, color='#215a8c', lw=1.5)
ax1.set_title('CFTC leveraged-fund Treasury-futures gross participation proxy')
ax1.set_ylabel('share of contract sides')

ax2.plot(to_dates(sig_year), sig_value, color='#9c4a36', lw=1.2)
ax2.axhline(0, color='#666666', lw=1)
ax2.set_title('Lagged level + 13-week acceleration signal')
ax2.set_ylabel('expanding z composite')

fig.subplots_adjust(left=0.0625, right=0.988, top=0.9476, bottom=0.0552, hspace=0.144)
fig.savefig('out.png')
